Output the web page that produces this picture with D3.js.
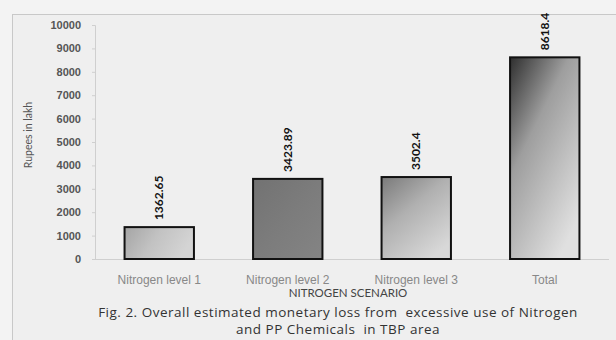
<!DOCTYPE html>
<html><head><meta charset="utf-8">
<script src="https://cdn.jsdelivr.net/npm/d3@7"></script>
<style>
html,body{margin:0;padding:0;background:#f2f2f2;}
svg{display:block;font-family:Lato,"Open Sans",sans-serif;}
</style></head><body>
<svg id="c" width="616" height="340"></svg>
<script>
const categories = ["Nitrogen level 1","Nitrogen level 2","Nitrogen level 3","Total"];
const values = [1362.65, 3423.89, 3502.4, 8618.4];
const valueLabels = ["1362.65","3423.89","3502.4","8618.4"];
const yTicks = [0,1000,2000,3000,4000,5000,6000,7000,8000,9000,10000];

const svg = d3.select("#c");
const W = 616, H = 340;
svg.append("rect").attr("width",W).attr("height",H).attr("fill","#f3f3f3");
svg.append("rect").attr("x",12.5).attr("y",14.5).attr("width",610).attr("height",340)
  .attr("fill","#efefef").attr("stroke","#c8c8c8").attr("stroke-width",1);

const m = {left:95, right:609, top:25, bottom:259};
const x = d3.scaleBand().domain(categories).range([m.left,m.right]).paddingInner(0.46).paddingOuter(0.23);
const y = d3.scaleLinear().domain([0,10000]).range([m.bottom,m.top]);

const defs = svg.append("defs");
const grads = [
  {id:"g0", x1:0,y1:0,x2:1,y2:0.3, stops:[["0%","#a4a4a4"],["50%","#c2c2c2"],["100%","#d4d4d4"]]},
  {id:"g1", x1:0,y1:0,x2:1,y2:1, stops:[["0%","#727272"],["50%","#7c7c7c"],["100%","#848484"]]},
  {id:"g2", x1:0,y1:0,x2:0.7,y2:1, stops:[["0%","#7a7a7a"],["45%","#b0b0b0"],["100%","#d8d8d8"]]},
  {id:"g3", x1:0,y1:0,x2:0.7,y2:1, stops:[["0%","#2e2e2e"],["40%","#9e9e9e"],["100%","#e0e0e0"]]}
];
grads.forEach(g=>{
  const lg = defs.append("linearGradient").attr("id",g.id)
    .attr("x1",g.x1).attr("y1",g.y1).attr("x2",g.x2).attr("y2",g.y2);
  g.stops.forEach(s=>lg.append("stop").attr("offset",s[0]).attr("stop-color",s[1]));
});

// y axis
const ya = svg.append("g").attr("transform",`translate(${m.left},0)`)
  .call(d3.axisLeft(y).tickValues(yTicks).tickSize(3).tickPadding(11).tickFormat(d3.format("d")));
ya.select(".domain").attr("stroke","#cfcfcf");
ya.selectAll(".tick line").attr("stroke","#cfcfcf");
ya.selectAll(".tick text").attr("fill","#555").attr("font-size","11px").attr("font-weight","bold");

// x axis
const xa = svg.append("g").attr("transform",`translate(0,${m.bottom})`)
  .call(d3.axisBottom(x).tickSize(0).tickPadding(16));
xa.select(".domain").attr("stroke","#cfcfcf").attr("d",`M${m.left},0.5H${m.right}`);
xa.selectAll(".tick text").attr("fill","#888").attr("font-size","12px");

// bars
svg.selectAll("rect.bar").data(values).enter().append("rect").attr("class","bar")
  .attr("x",(d,i)=>x(categories[i]))
  .attr("y",d=>y(d))
  .attr("width",x.bandwidth())
  .attr("height",d=>m.bottom-y(d))
  .attr("fill",(d,i)=>`url(#g${i})`)
  .attr("stroke","#111").attr("stroke-width",2);

// value labels
svg.selectAll("text.val").data(values).enter().append("text").attr("class","val")
  .attr("transform",(d,i)=>`translate(${x(categories[i])+x.bandwidth()/2+4},${y(d)-7}) rotate(-90)`)
  .attr("font-size","12px").attr("font-weight","bold").attr("fill","#111")
  .text((d,i)=>valueLabels[i]);

// axis titles
svg.append("text").attr("transform","translate(32,135) rotate(-90)")
  .attr("text-anchor","middle").attr("font-size","10.5px").attr("fill","#555").text("Rupees in lakh");
svg.append("text").attr("x",348).attr("y",297).attr("text-anchor","middle")
  .attr("font-size","11.5px").attr("fill","#444").text("NITROGEN SCENARIO");

// caption
const cap = svg.append("g").attr("font-family","'Open Sans',Lato,sans-serif")
  .attr("font-size","13.5px").attr("letter-spacing","0.5px").attr("fill","#333").attr("text-anchor","middle");
cap.append("text").attr("x",338).attr("y",317).attr("xml:space","preserve")
  .text("Fig. 2. Overall estimated monetary loss from  excessive use of Nitrogen");
cap.append("text").attr("x",338).attr("y",334).attr("xml:space","preserve")
  .text("and PP Chemicals  in TBP area");
</script>
</body></html>
